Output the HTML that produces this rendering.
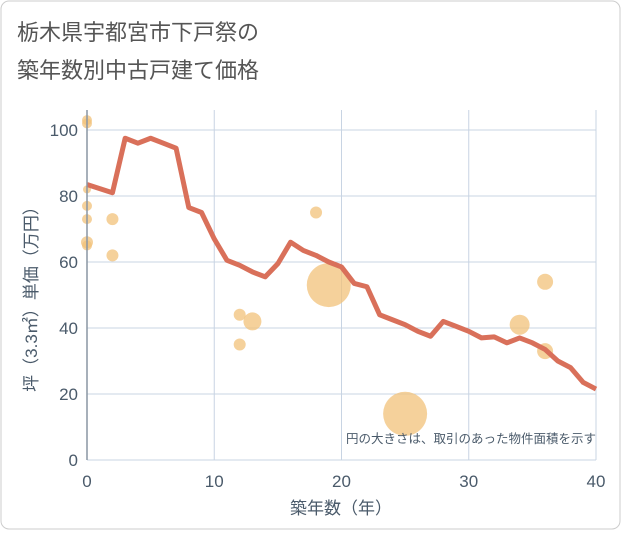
<!DOCTYPE html>
<html><head><meta charset="utf-8"><style>
body{margin:0;background:#fff;font-family:"Liberation Sans","Noto Sans CJK JP",sans-serif;}
svg text{font-family:"Liberation Sans","Noto Sans CJK JP",sans-serif;}
</style></head><body>
<svg width="621" height="530">
<rect x="1" y="1" width="619" height="528" rx="8" fill="#fff" stroke="#ccc"/>
<text x="17" y="40" font-size="22" fill="#555">栃木県宇都宮市下戸祭の</text>
<text x="17" y="78" font-size="22" fill="#555">築年数別中古戸建て価格</text>
<g id="grid"></g><g id="bubbles"></g><g id="line"></g><g id="axes"></g>
<text x="596" y="443" font-size="12.5" fill="#4a5a6a" text-anchor="end">円の大きさは、取引のあった物件面積を示す</text>
<text x="341" y="514" font-size="17" fill="#4a5a6a" text-anchor="middle">築年数（年）</text>
<text transform="translate(37,295) rotate(-90)" font-size="17" fill="#4a5a6a" text-anchor="middle">坪（3.3㎡）単価（万円）</text>
</svg>
<script>
const xTicks=[0,10,20,30,40];
const yTicks=[0,20,40,60,80,100];
const lineYears=[0,2,3,4,5,6,7,8,9,10,11,12,13,14,15,16,17,18,19,20,21,22,23,24,25,26,27,28,29,30,31,32,33,34,35,36,37,38,39,40];
const lineValues=[83.5,81,97.5,96,97.5,96,94.5,76.5,75,67,60.5,59,57,55.5,59.5,66,63.5,62,60,58.5,53.5,52.5,44,42.5,41,39,37.5,42,40.5,39,37,37.3,35.5,37,35.5,33.5,30,28,23.5,21.5];
const bubbleYears=[0,0,0,0,0,0,0,2,2,12,12,13,18,19,25,34,36,36];
const bubbleValues=[103,102,82,77,73,66,65,73,62,44,35,42,75,53,14,41,54,33];
const bubbleRadii=[5,5,4,5,5,6,5,6,6,6,6,9,6,22,22,10,8,8];
const X0=87,X1=596,Y0=460,Y1=130;
const xs=v=>X0+(X1-X0)*v/40, ys=v=>Y0-(Y0-Y1)*v/100;
const NS="http://www.w3.org/2000/svg";
function mk(tag,parent,attrs){const e=document.createElementNS(NS,tag);for(const k in attrs)e.setAttribute(k,attrs[k]);document.getElementById(parent).appendChild(e);return e;}
xTicks.forEach(t=>{const l=mk('line','grid',{x1:xs(t),x2:xs(t),y1:Y1-20,y2:Y0,stroke:'#c8d4e3'});


const tx=mk('text','axes',{x:xs(t),y:487,'font-size':17,fill:'#4a5a6a','text-anchor':'middle'});tx.textContent=t;

});
yTicks.forEach(t=>{const l=mk('line','grid',{x1:X0,x2:X1,y1:ys(t),y2:ys(t),stroke:'#c8d4e3'});


const tx=mk('text','axes',{x:78,y:ys(t)+6,'font-size':17,fill:'#4a5a6a','text-anchor':'end'});tx.textContent=t;

});
const ax=mk('line','axes',{x1:X0,x2:X0,y1:Y1-20,y2:Y0,stroke:'#8a96a3','stroke-width':1.5});


bubbleYears.forEach((yr,i)=>{const c=mk('circle','bubbles',{cx:xs(yr),cy:ys(bubbleValues[i]),r:bubbleRadii[i],fill:'#f2c27a','fill-opacity':0.75});

});
const p=mk('polyline','line',{points:lineYears.map((yr,i)=>xs(yr)+','+ys(lineValues[i])).join(' '),fill:'none',stroke:'#d9705a','stroke-width':5,'stroke-linejoin':'round'});


</script>
</body></html>
